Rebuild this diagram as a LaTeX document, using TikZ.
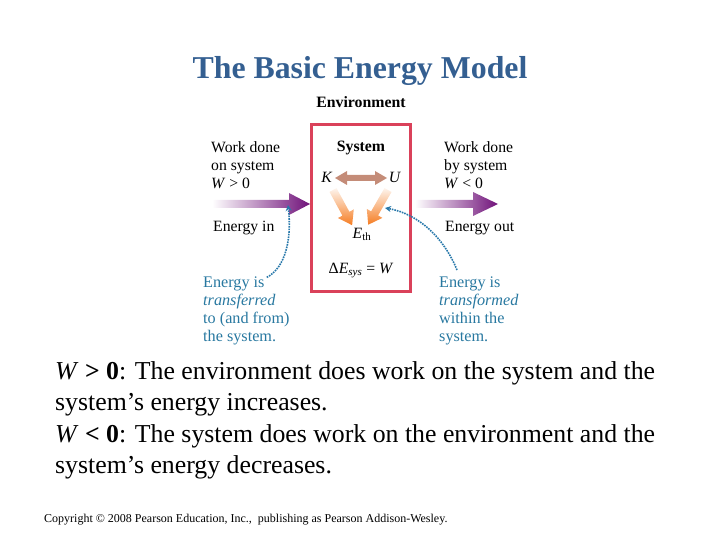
\documentclass[tikz,border=0pt]{standalone}
\usepackage{fontspec}
\setmainfont{Liberation Serif}
\usetikzlibrary{arrows.meta}
\definecolor{titleblue}{RGB}{52,95,145}
\definecolor{boxred}{RGB}{218,65,90}
\definecolor{arrowpurple}{RGB}{112,18,122}
\definecolor{kubrown}{RGB}{196,140,120}
\definecolor{eorange}{RGB}{245,125,35}
\definecolor{tealtext}{RGB}{40,120,160}
\definecolor{dotblue}{RGB}{40,120,170}
\begin{document}
\begin{tikzpicture}[x=1pt,y=-1pt,
  lbl/.style={inner sep=0pt, anchor=base west, font=\fontsize{15.7}{18}\selectfont},
  lblc/.style={inner sep=0pt, anchor=base, font=\fontsize{15.7}{18}\selectfont},
  tlbl/.style={lbl, text=tealtext, font=\fontsize{16.2}{18}\selectfont},
  body/.style={inner sep=0pt, anchor=base west, font=\fontsize{25.8}{31}\selectfont},
  dotarrow/.style={dotblue, densely dotted, line width=1.6pt, -{Stealth[length=6pt,width=6pt]}}]
\useasboundingbox (0,0) rectangle (720,540);

% title
\node[inner sep=0pt, anchor=base, text=titleblue, font=\fontsize{31.8}{36}\selectfont\bfseries] (title) at (360,79) {The Basic Energy Model};

% environment and system box
\node[lblc, font=\fontsize{15.8}{18}\selectfont\bfseries] (env) at (361,108) {Environment};
\draw[boxred, line width=3pt] (311,125) rectangle (410,291);
\node[lblc, font=\fontsize{15.8}{18}\selectfont\bfseries] (sys) at (361,152) {System};
\node[lblc] (K) at (327,183) {\textit{K}};
\node[lblc] (U) at (395,183) {\textit{U}};
\node[lblc] (Eth) at (362,238) {\textit{E}\textsubscript{th}};
\node[lblc] (dE) at (361,273) {Δ\textit{E}\textsubscript{\textit{sys}} = \textit{W}};

% K <-> U
\fill[kubrown] (335,178) -- (347,171) -- (347,175) -- (375,175) -- (375,171) -- (387,178) -- (375,185) -- (375,181) -- (347,181) -- (347,185) -- cycle;

% orange arrows to E_th
\shade[top color=eorange!8!white, bottom color=eorange] (336.5,188.1) -- (349.4,211.8) -- (353.8,209.4) -- (352.1,225.2) -- (338.0,218.0) -- (342.4,215.6) -- (329.5,191.9) -- cycle;
\shade[top color=eorange!8!white, bottom color=eorange] (384.5,188.0) -- (371.1,211.4) -- (366.8,208.9) -- (368.2,224.7) -- (382.4,217.9) -- (378.1,215.4) -- (391.5,192.0) -- cycle;

% left labels
\node[lbl] (wl1) at (211,153) {Work done};
\node[lbl] (wl2) at (211,171) {on system};
\node[lbl] (wl3) at (211,189) {\textit{W} > 0};
\node[lbl] (ein) at (213,231) {Energy in};

% right labels
\node[lbl] (wr1) at (444,153) {Work done};
\node[lbl] (wr2) at (444,171) {by system};
\node[lbl] (wr3) at (444,189) {\textit{W} < 0};
\node[lbl] (eout) at (445,231) {Energy out};

% purple arrows
\shade[left color=white, middle color=arrowpurple!55!white, right color=arrowpurple] (212,200) -- (289,200) -- (289,193) -- (310,204) -- (289,215) -- (289,208) -- (212,208) -- cycle;
\shade[left color=white, middle color=arrowpurple!55!white, right color=arrowpurple] (415,200) -- (473,200) -- (473,192) -- (498,204) -- (473,216) -- (473,208) -- (415,208) -- cycle;

% teal texts
\node[tlbl] (tl1) at (203,287) {Energy is};
\node[tlbl] (tl2) at (203,305) {\textit{transferred}};
\node[tlbl] (tl3) at (203,323) {to (and from)};
\node[tlbl] (tl4) at (203,341) {the system.};
\node[tlbl] (tr1) at (439,287) {Energy is};
\node[tlbl] (tr2) at (439,305) {\textit{transformed}};
\node[tlbl] (tr3) at (439,323) {within the};
\node[tlbl] (tr4) at (439,341) {system.};

% dotted arrows
\coordinate (dl) at (288,205);
\coordinate (dr) at (385,208);
\draw[dotarrow] (tl1.east) ++(2,-6) .. controls (285,268) and (292,240) .. (dl);
\draw[dotarrow] (457,270) .. controls (445,240) and (420,214) .. (dr);

% body text
\node[body] (b1) at (55,379) {\textit{W} \textbf{> 0}: The environment does work on the system and the};
\node[body] (b2) at (55,410) {system’s energy increases.};
\node[body] (b3) at (55,442) {\textit{W} \textbf{< 0}: The system does work on the environment and the};
\node[body] (b4) at (55,473) {system’s energy decreases.};

% copyright
\node[inner sep=0pt, anchor=base west, font=\fontsize{12}{14}\selectfont] (copy) at (44,522) {Copyright © 2008 Pearson Education, Inc.,\ \ publishing as Pearson Addison-Wesley.};
\end{tikzpicture}
\end{document}
